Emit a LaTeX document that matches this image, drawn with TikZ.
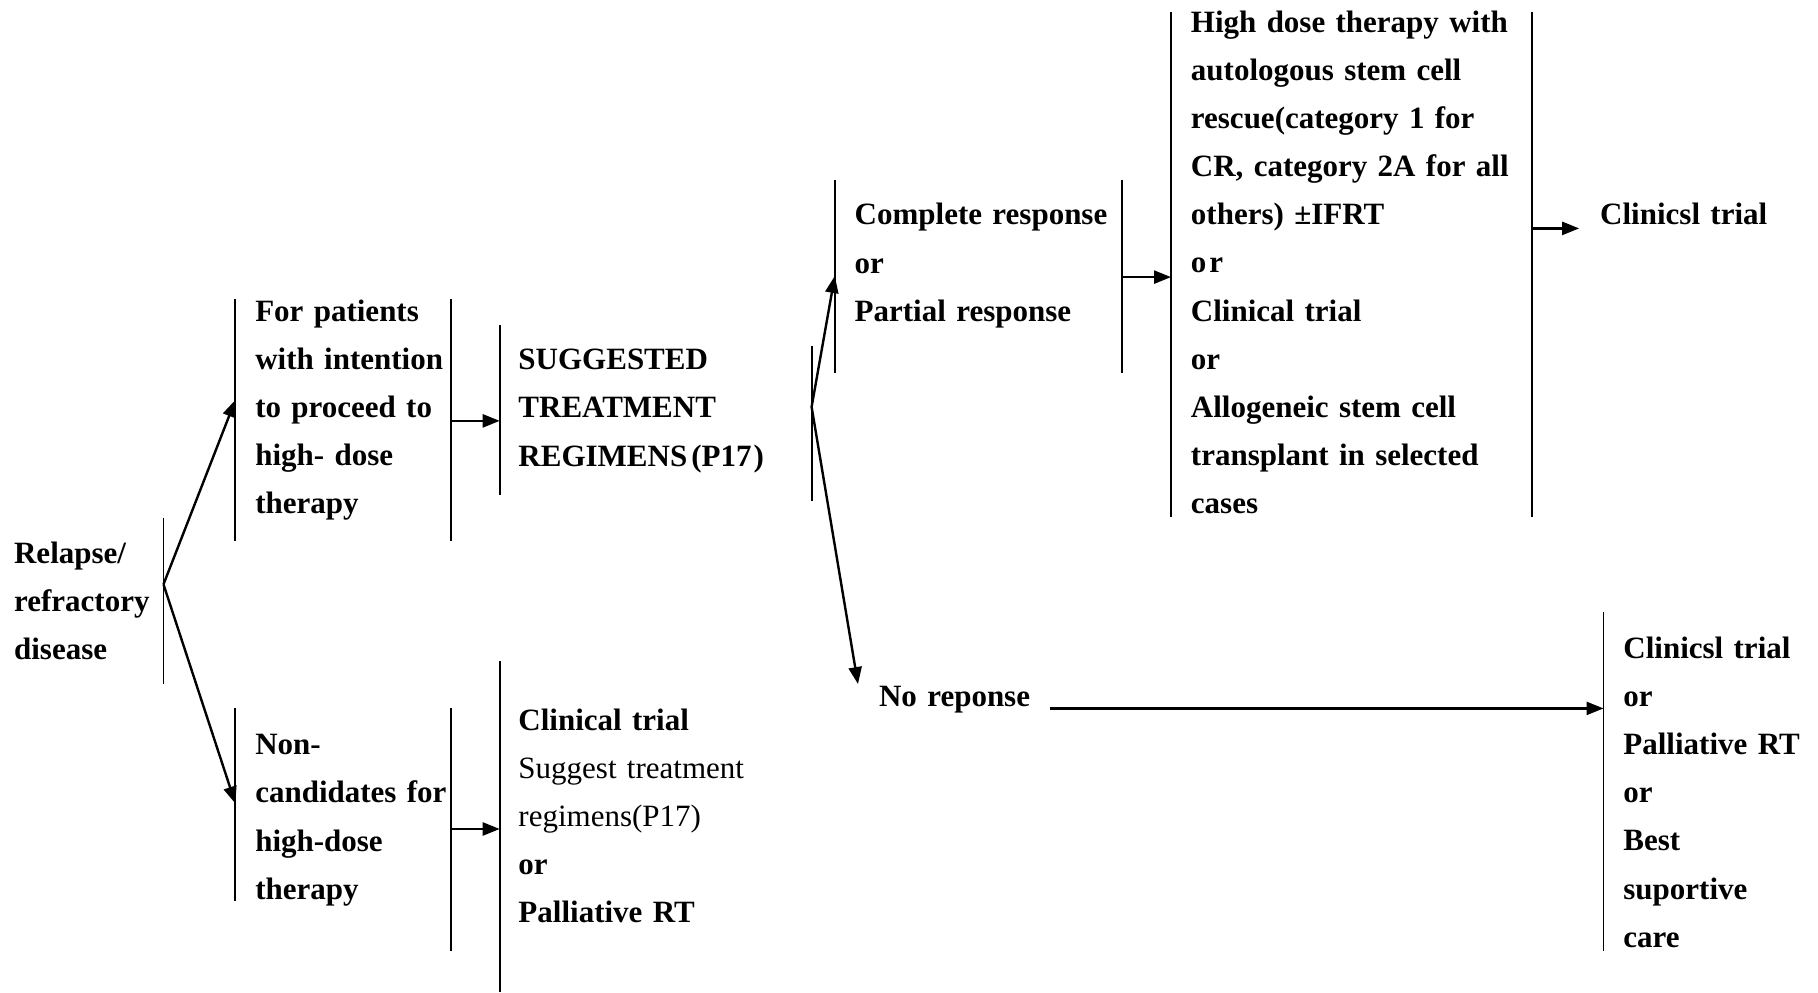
\documentclass[tikz,border=0pt]{standalone}
\usepackage{fontspec}
\setmainfont{Liberation Serif}
\usetikzlibrary{arrows.meta}

\begin{document}
\begin{tikzpicture}[x=1.1594pt,y=-1.1594pt,
  txt/.style={anchor=base west, inner sep=0pt, align=left, text width=420pt,
    font=\fontsize{31}{48.1}\selectfont\bfseries},
  bar/.style={line width=1.8pt},
  arr/.style={line width=2.4pt, -{Triangle[length=17pt,width=13pt]}},
]
\useasboundingbox (0,0) rectangle (1568,856);

% ---------- texts ----------
\node[txt] (rel) at (12,486) {Relapse/\\refractory\\disease};
\node[txt] (hdt) at (220,277) {For patients\\with intention\\to proceed to\\high- dose\\therapy};
\node[txt] (sug) at (447,319) {SUGGESTED\\TREATMENT\\REGIMENS\kern4pt(P17\kern2pt)};
\node[txt] (resp) at (737,194) {Complete response\\or\\Partial response};
\node[txt] (auto) at (1027,28) {High dose therapy with\\autologous stem cell\\rescue(category 1 for\\CR, category 2A for all\\others) ±IFRT\\o\kern3pt r\\Clinical trial\\or\\Allogeneic stem cell\\transplant in selected\\cases};
\node[txt] (ct1) at (1380,194) {Clinicsl trial};
\node[txt] (nores) at (758,609) {No reponse};
\node[txt] (last) at (1400,568) {Clinicsl trial\\or\\Palliative RT\\or\\Best\\suportive\\care};
\node[txt] (nonc) at (220,651) {Non-\\candidates for\\high-dose\\therapy};
\node[txt] (ct2) at (447,630) {Clinical trial\\{\mdseries Suggest treatment}\\{\mdseries regimens(P17)}\\or\\Palliative RT};

% ---------- bars ----------
\coordinate (b1t) at (141,447);  \coordinate (b1b) at (141,590);
\coordinate (b2t) at (203,258);  \coordinate (b2b) at (203,467);
\coordinate (b3t) at (389,258);  \coordinate (b3b) at (389,467);
\coordinate (b4t) at (431,280);  \coordinate (b4b) at (431,427);
\coordinate (b5t) at (700,298);  \coordinate (b5b) at (700,432);
\coordinate (b6t) at (720,155);  \coordinate (b6b) at (720,322);
\coordinate (b7t) at (968,155);  \coordinate (b7b) at (968,322);
\coordinate (b8t) at (1010,10);  \coordinate (b8b) at (1010,446);
\coordinate (b9t) at (1321,10);  \coordinate (b9b) at (1321,446);
\coordinate (b10t) at (1383,528); \coordinate (b10b) at (1383,820);
\coordinate (b11t) at (203,611); \coordinate (b11b) at (203,777);
\coordinate (b12t) at (389,611); \coordinate (b12b) at (389,820);
\coordinate (b13t) at (431,570); \coordinate (b13b) at (431,856);

\foreach \i in {1,...,13} \draw[bar] (b\i t) -- (b\i b);

% ---------- connector points ----------
\coordinate (relOut) at (141,504);
\coordinate (hdtIn) at (203,345);
\coordinate (noncIn) at (203,693);
\coordinate (hdtOut) at (389,363);
\coordinate (sugIn) at (431,363);
\coordinate (sugOut) at (700,351);
\coordinate (respIn) at (720,238);
\coordinate (noresIn) at (740,590);
\coordinate (respOut) at (968,239);
\coordinate (autoIn) at (1010,239);
\coordinate (autoOut) at (1321,197);
\coordinate (ct1In) at (1362,197);
\coordinate (noresOut) at (906,611);
\coordinate (lastIn) at (1383,611);
\coordinate (noncOut) at (389,715);
\coordinate (ct2In) at (431,715);

% ---------- connectors ----------
\draw[arr] (relOut) -- (hdtIn);
\draw[arr] (relOut) -- (noncIn);
\draw[arr] (hdtOut) -- (sugIn);
\draw[arr] (sugOut) -- (respIn);
\draw[arr] (sugOut) -- (noresIn);
\draw[arr] (respOut) -- (autoIn);
\draw[arr] (autoOut) -- (ct1In);
\draw[arr] (noresOut) -- (lastIn);
\draw[arr] (noncOut) -- (ct2In);
\end{tikzpicture}
\end{document}
